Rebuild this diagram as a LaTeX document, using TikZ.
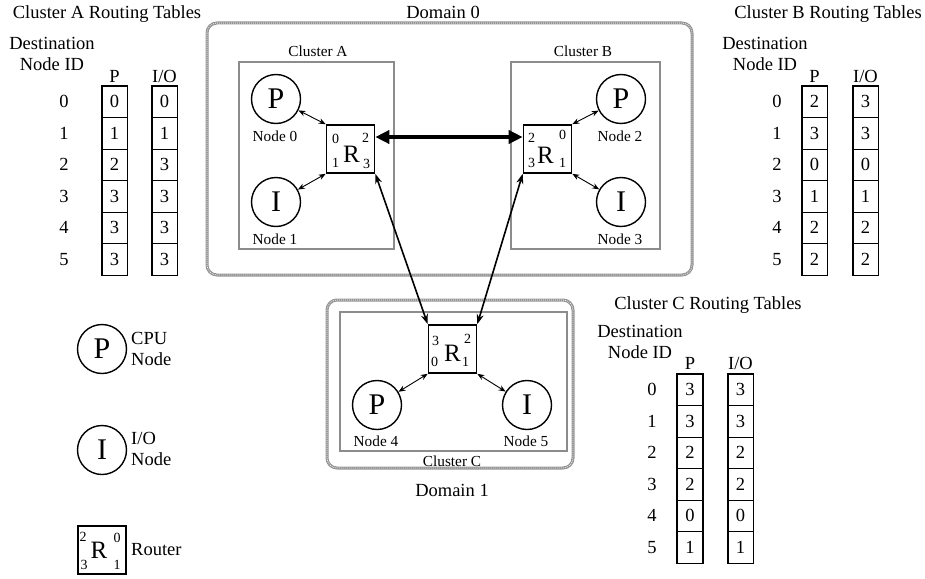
\documentclass[tikz,border=0pt]{standalone}
\usepackage{fontspec}
\setmainfont{Liberation Serif}
\usetikzlibrary{arrows.meta, positioning, calc}
\definecolor{boxgray}{HTML}{8C8C8C}
\definecolor{domgray}{HTML}{959595}
\tikzset{
  endpt/.style={
    circle, draw, line width=1.4pt, minimum size=49pt, inner sep=0pt,
    font=\fontsize{30}{30}\selectfont
  },
  router/.style={
    rectangle, draw, line width=1.6pt, minimum size=48pt, inner sep=0pt
  },
  rlet/.style={inner sep=0pt, font=\fontsize{25}{25}\selectfont},
  port/.style={inner sep=0pt, font=\fontsize{14}{14}\selectfont},
  cluster/.style={draw=boxgray, line width=1.5pt},
  dombox/.style={
    draw=domgray, line width=3pt, rounded corners=10pt,
    postaction={draw=white, line width=0.7pt, dash pattern=on 0.8pt off 1.2pt}
  },
  cell/.style={
    rectangle, draw, line width=0.9pt, minimum width=25pt,
    minimum height=31.5pt, inner sep=0pt, font=\fontsize{18.5}{21}\selectfont
  },
  colframe/.style={draw, line width=1.8pt},
  txt/.style={inner sep=0pt, font=\fontsize{18.5}{21}\selectfont},
  lbl/.style={inner sep=0pt, font=\fontsize{15.3}{17}\selectfont},
  lnk/.style={{Stealth[length=7pt,width=5.5pt]}-{Stealth[length=7pt,width=5.5pt]}, line width=0.9pt},
  trunk/.style={{Stealth[length=10pt,width=7pt]}-{Stealth[length=10pt,width=7pt]}, line width=1.6pt},
  bus/.style={{Triangle[length=14pt,width=13pt]}-{Triangle[length=14pt,width=13pt]}, line width=4pt},
}

\begin{document}
\begin{tikzpicture}[x=1pt, y=-1pt]
\useasboundingbox (0,0) rectangle (925,578);

% --- Domains and clusters ---
\draw[dombox] (207,23) rectangle (692,275);
\draw[dombox] (327,300) rectangle (573,468);
\draw[cluster] (239,62) rectangle (394,249);
\draw[cluster] (511,62) rectangle (660,249);
\draw[cluster] (340,312) rectangle (567,451);
\node[txt] (dom0) at (443,12) {Domain 0};
\node[txt] (dom1) at (452,490) {Domain 1};
\node[lbl] (clA) at (318,51) {Cluster A};
\node[lbl] (clB) at (583,51) {Cluster B};
\node[lbl] (clC) at (452,461) {Cluster C};

% --- Cluster A ---
\node[endpt] (p0) at (276,99) {P};
\node[endpt] (i1) at (276,202) {I};
\node[lbl] (n0) at ($(p0)+(-1,37)$) {Node 0};
\node[lbl] (n1) at ($(i1)+(-1,37)$) {Node 1};
\node[router] (ra) at (350.5,149) {};
\node[rlet] (raR) at ($(ra)+(1,5)$) {R};
\node[port] (ra0) at ($(ra)+(-15,-10)$) {0};
\node[port] (ra2) at ($(ra)+(15,-11)$) {2};
\node[port] (ra1) at ($(ra)+(-15,14)$) {1};
\node[port] (ra3) at ($(ra)+(16,15)$) {3};

% --- Cluster B ---
\node[endpt] (p2) at (621,99) {P};
\node[endpt] (i3) at (621,202) {I};
\node[lbl] (n2) at ($(p2)+(-1,37)$) {Node 2};
\node[lbl] (n3) at ($(i3)+(-1,37)$) {Node 3};
\node[router] (rb) at (547.5,149) {};
\node[rlet] (rbR) at ($(rb)+(-2,6)$) {R};
\node[port] (rb2) at ($(rb)+(-16,-11)$) {2};
\node[port] (rb0) at ($(rb)+(15,-14)$) {0};
\node[port] (rb3) at ($(rb)+(-16,14)$) {3};
\node[port] (rb1) at ($(rb)+(15,14)$) {1};

% --- Cluster C ---
\node[router] (rc) at (452.5,349) {};
\node[rlet] (rcR) at ($(rc)+(0,4)$) {R};
\node[port] (rc3) at ($(rc)+(-17,-8)$) {3};
\node[port] (rc2) at ($(rc)+(15,-10)$) {2};
\node[port] (rc0) at ($(rc)+(-18,13)$) {0};
\node[port] (rc1) at ($(rc)+(13,13)$) {1};
\node[endpt] (p4) at (377,405) {P};
\node[endpt] (i5) at (527,405) {I};
\node[lbl] (n4) at ($(p4)+(-1,36)$) {Node 4};
\node[lbl] (n5) at ($(i5)+(-1,36)$) {Node 5};

% --- Links ---
\draw[lnk] (p0) -- (ra.north west);
\draw[lnk] (i1) -- (ra.south west);
\draw[lnk] (p2) -- (rb.north east);
\draw[lnk] (i3) -- (rb.south east);
\draw[lnk] (p4) -- (rc.south west);
\draw[lnk] (i5) -- (rc.south east);
\draw[bus] ([yshift=12pt]ra.east) -- ([yshift=12pt]rb.west);
\draw[trunk] (ra.south east) -- (rc.north west);
\draw[trunk] (rb.south west) -- (rc.north east);

% --- Routing tables ---
\node[txt] (tA) at (107,14) {Cluster A Routing Tables};
\node[txt, align=center] (dA) at (52,54) {Destination\\Node ID};
\node[txt] (hAp) at (114.5,76) {P};
\node[txt] (hAio) at (164.5,76) {I/O};
\foreach \v [count=\i from 0] in {0,1,2,3,3,3}
  \node[cell] (ap\i) at (114.5,101.75+31.5*\i) {\v};
\foreach \v [count=\i from 0] in {0,1,3,3,3,3}
  \node[cell] (aio\i) at (164.5,101.75+31.5*\i) {\v};
\foreach \i in {0,...,5}
  \node[txt] (arow\i) at (64,101.75+31.5*\i) {\i};
\draw[colframe] (ap0.north west) rectangle (ap5.south east);
\draw[colframe] (aio0.north west) rectangle (aio5.south east);

\node[txt] (tB) at (828,14) {Cluster B Routing Tables};
\node[txt, align=center] (dB) at (765,54) {Destination\\Node ID};
\node[txt] (hBp) at (814.5,76) {P};
\node[txt] (hBio) at (865.5,76) {I/O};
\foreach \v [count=\i from 0] in {2,3,0,1,2,2}
  \node[cell] (bp\i) at (814.5,101.75+31.5*\i) {\v};
\foreach \v [count=\i from 0] in {3,3,0,1,2,2}
  \node[cell] (bio\i) at (865.5,101.75+31.5*\i) {\v};
\foreach \i in {0,...,5}
  \node[txt] (brow\i) at (777,101.75+31.5*\i) {\i};
\draw[colframe] (bp0.north west) rectangle (bp5.south east);
\draw[colframe] (bio0.north west) rectangle (bio5.south east);

\node[txt] (tC) at (708,305) {Cluster C Routing Tables};
\node[txt, align=center] (dC) at (640,342) {Destination\\Node ID};
\node[txt] (hCp) at (690,363) {P};
\node[txt] (hCio) at (740.5,363) {I/O};
\foreach \v [count=\i from 0] in {3,3,2,2,0,1}
  \node[cell] (cp\i) at (690,389.75+31.5*\i) {\v};
\foreach \v [count=\i from 0] in {3,3,2,2,0,1}
  \node[cell] (cio\i) at (740.5,389.75+31.5*\i) {\v};
\foreach \i in {0,...,5}
  \node[txt] (crow\i) at (652,389.75+31.5*\i) {\i};
\draw[colframe] (cp0.north west) rectangle (cp5.south east);
\draw[colframe] (cio0.north west) rectangle (cio5.south east);

% --- Legend ---
\node[endpt] (legp) at (102,349) {P};
\node[txt, align=left, anchor=west] (legpt) at (131,349) {CPU\\Node};
\node[endpt] (legi) at (102,450) {I};
\node[txt, align=left, anchor=west] (legit) at (131,449) {I/O\\Node};
\node[router] (legr) at (102,550) {};
\node[rlet] (legrR) at ($(legr)+(-3,0)$) {R};
\node[port] (legr2) at ($(legr)+(-19,-13)$) {2};
\node[port] (legr0) at ($(legr)+(15,-12)$) {0};
\node[port] (legr3) at ($(legr)+(-18,15)$) {3};
\node[port] (legr1) at ($(legr)+(15,15)$) {1};
\node[txt, anchor=west] (legrt) at (131,550) {Router};

\end{tikzpicture}
\end{document}
